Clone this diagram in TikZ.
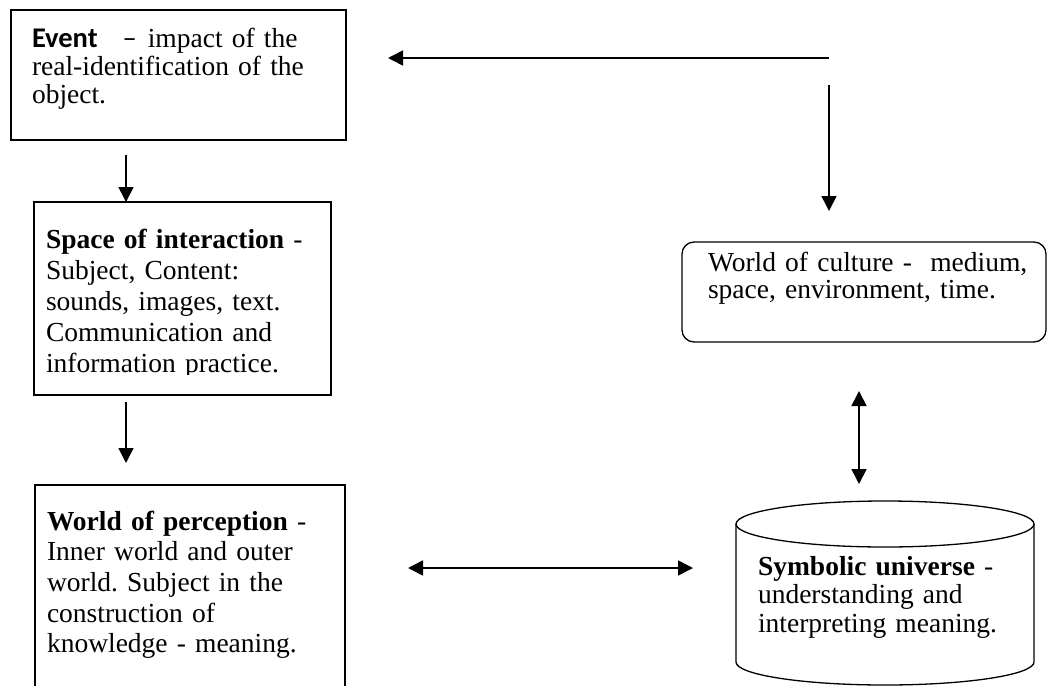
\documentclass[tikz,border=0pt]{standalone}
\usepackage{fontspec}
\setmainfont{Liberation Serif}
\newfontfamily\evfont{Carlito}
\usetikzlibrary{arrows.meta}
\frenchspacing
\begin{document}
\begin{tikzpicture}[x=1pt,y=-1pt,
  box/.style={draw=black, line width=1.3pt, inner sep=0pt, outer sep=0pt, anchor=north west},
  txt/.style={anchor=base west, inner sep=0pt, outer sep=0pt, text width=330pt, align=left},
  arr/.style={line width=1.6pt, -{Triangle[length=15pt,width=15pt]}},
  darr/.style={line width=1.6pt, {Triangle[length=15pt,width=15pt]}-{Triangle[length=15pt,width=15pt]}}]
\useasboundingbox (0,0) rectangle (1048,685);
\clip (0,0) rectangle (1048,685);
% boxes
\node[box, minimum width=335pt, minimum height=130pt] (event) at (11,10) {};
\node[box, minimum width=297pt, minimum height=193pt] (space) at (34,202) {};
\node[box, minimum width=310pt, minimum height=260pt] (perc) at (35,485) {};
\node[box, rounded corners=12pt, minimum width=364pt, minimum height=100pt] (cult) at (682,242) {};
\node[inner sep=0pt, outer sep=0pt, anchor=north west, minimum width=298pt, minimum height=161pt] (symb) at (736,524) {};
% cylinder outline
\draw[line width=1.3pt] (885,524) ellipse [x radius=149, y radius=23];
\draw[line width=1.3pt] (symb.north west) -- (736,662) arc[start angle=180, end angle=360, x radius=149, y radius=-23] -- (symb.north east);
% texts
\node[txt, font=\fontsize{27.5}{27.5}\selectfont] (eventtxt) at (32,48)
  {{\evfont\fontsize{28.5}{27.5}\selectfont\bfseries Event}\hspace{25pt}{\evfont\fontsize{28.5}{27.5}\selectfont –}\hspace{11pt}impact of the\\real-identification of the\\object.};
\begin{scope}
\clip (34,202) rectangle (331,374);
\node[txt, font=\fontsize{27.5}{31}\selectfont] (spacetxt) at (46,248)
  {\textbf{Space of interaction} -\\Subject, Content:\\sounds, images, text.\\Communication and\\information practice.};
\end{scope}
\node[txt, font=\fontsize{27.5}{30.7}\selectfont] (perctxt) at (47,530)
  {\textbf{World of perception} -\\Inner world and outer\\world. Subject in the\\construction of\\knowledge - meaning.};
\node[txt, font=\fontsize{27.5}{27.5}\selectfont] (culttxt) at (708,271)
  {World of culture -~ medium,\\space, environment, time.};
\node[txt, font=\fontsize{27.5}{28.5}\selectfont] (symbtxt) at (758,575)
  {\textbf{Symbolic universe} -\\understanding and\\interpreting meaning.};
% connectors
\coordinate (t1) at (829,58);
\coordinate (t2) at (388,58);
\draw[arr] (t1) -- (t2);
\coordinate (v1) at (829,85);
\coordinate (v2) at (829,211);
\draw[arr] (v1) -- (v2);
\coordinate (d1) at (126,155);
\draw[arr] (d1) -- (d1 |- space.north);
\coordinate (d2) at (126,402);
\coordinate (d2e) at (126,463);
\draw[arr] (d2) -- (d2e);
\coordinate (h1) at (408,568);
\coordinate (h2) at (693,568);
\draw[darr] (h1) -- (h2);
\coordinate (u1) at (859,391);
\coordinate (u2) at (859,484);
\draw[darr] (u1) -- (u2);
\end{tikzpicture}
\end{document}
